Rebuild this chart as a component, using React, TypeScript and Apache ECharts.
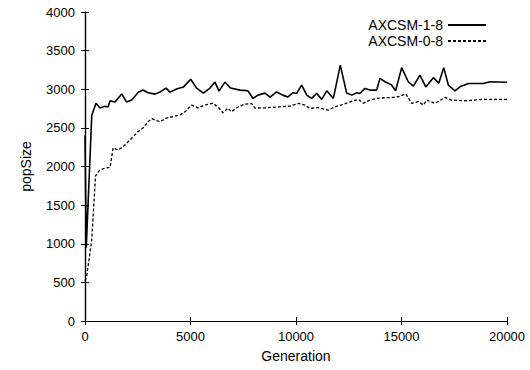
import React, { useEffect, useRef } from "react";
import * as echarts from "echarts";

const seriesNames = ["AXCSM-1-8", "AXCSM-0-8"];

const solidGen = [0, 60, 320, 520, 710, 950, 1090, 1190, 1420, 1740, 1975, 2210, 2530, 2750, 2990, 3320, 3550, 3840, 4030, 4340, 4660, 5010, 5290, 5610, 5920, 6160, 6350, 6630, 6900, 7350, 7720, 7960, 8200, 8530, 8770, 9080, 9370, 9620, 9860, 10030, 10270, 10510, 10740, 10980, 11220, 11455, 11770, 12100, 12400, 12640, 12880, 13030, 13270, 13500, 13820, 13980, 14220, 14530, 14720, 15010, 15320, 15560, 15876, 16150, 16510, 16770, 17000, 17220, 17535, 17770, 18170, 18880, 19190, 20000];
const solidVal = [2400, 950, 2660, 2820, 2756, 2780, 2770, 2850, 2834, 2940, 2834, 2860, 2960, 2990, 2955, 2937, 2963, 3015, 2963, 3002, 3028, 3130, 3015, 2950, 3015, 3093, 2976, 3093, 3015, 2989, 2980, 2880, 2924, 2950, 2899, 2965, 2924, 2900, 2955, 2946, 3054, 2924, 2881, 2946, 2869, 2980, 2881, 3313, 2950, 2924, 2955, 2946, 3011, 2989, 2989, 3140, 3097, 3054, 2980, 3280, 3097, 3040, 3183, 3030, 3150, 3080, 3280, 3054, 2980, 3032, 3075, 3075, 3097, 3090];

const dashedGen = [0, 80, 320, 500, 700, 950, 1190, 1330, 1560, 1800, 2040, 2280, 2510, 2750, 2990, 3170, 3320, 3550, 3860, 4150, 4500, 4740, 5050, 5355, 5670, 6066, 6350, 6540, 6780, 6930, 7270, 7580, 7900, 8056, 8610, 9240, 9720, 10110, 10420, 10664, 11000, 11532, 11850, 12200, 12560, 12955, 13190, 13506, 13823, 14200, 14612, 14850, 15200, 15480, 15800, 16033, 16190, 16587, 17060, 17380, 18090, 18800, 20000];
const dashedVal = [520, 580, 1050, 1880, 1954, 1980, 1990, 2240, 2213, 2255, 2320, 2385, 2450, 2500, 2580, 2620, 2600, 2580, 2627, 2644, 2666, 2708, 2795, 2760, 2795, 2820, 2756, 2695, 2756, 2708, 2773, 2808, 2815, 2756, 2760, 2773, 2782, 2817, 2795, 2752, 2765, 2730, 2773, 2800, 2838, 2869, 2820, 2860, 2881, 2890, 2894, 2903, 2940, 2817, 2840, 2795, 2860, 2817, 2894, 2860, 2851, 2869, 2869];

const xTicks = { min: 0, max: 20000, interval: 5000 };
const yTicks = { min: 0, max: 4000, interval: 500 };

const FONT = "Liberation Sans, Arial, Helvetica, sans-serif";

export default function App() {
  const ref = useRef<HTMLDivElement>(null);
  useEffect(() => {
    const chart = echarts.init(ref.current!, null, { renderer: "svg" });
    const zip = (xs: number[], ys: number[]) => xs.map((x, i) => [x, ys[i]]);
    const axisBase = {
      axisLine: { show: true, lineStyle: { color: "#000", width: 1.2 } },
      axisTick: { show: true, inside: true, length: 4, lineStyle: { color: "#000", width: 1 } },
      splitLine: { show: false },
    };
    const plain = (v: number) => String(v);
    chart.setOption({
      animation: false,
      backgroundColor: "#fff",
      textStyle: { fontFamily: FONT, color: "#000" },
      grid: { left: 85, right: 23, top: 12, bottom: 49, containLabel: false },
      legend: {
        orient: "vertical",
        right: 38,
        top: 13,
        align: "right",
        itemWidth: 38,
        itemHeight: 10,
        itemGap: 2,
        itemStyle: { opacity: 0 },
        textStyle: { fontFamily: FONT, fontSize: 14, color: "#000" },
        data: seriesNames,
      },
      xAxis: [
        {
          type: "value",
          ...xTicks,
          ...axisBase,
          axisLabel: { color: "#000", fontSize: 13, fontFamily: FONT, margin: 9, formatter: plain },
          name: "Generation",
          nameLocation: "middle",
          nameGap: 28,
          nameTextStyle: { fontSize: 14, fontFamily: FONT, color: "#000" },
        },
        {
          type: "value",
          position: "top",
          ...xTicks,
          ...axisBase,
          axisLabel: { show: false },
        },
      ],
      yAxis: [
        {
          type: "value",
          ...yTicks,
          ...axisBase,
          axisLabel: { color: "#000", fontSize: 13, fontFamily: FONT, margin: 10, formatter: plain },
          name: "popSize",
          nameLocation: "middle",
          nameGap: 52,
          nameTextStyle: { fontSize: 14, fontFamily: FONT, color: "#000" },
        },
        {
          type: "value",
          position: "right",
          ...yTicks,
          ...axisBase,
          axisLabel: { show: false },
        },
      ],
      series: [
        {
          name: seriesNames[0],
          type: "line",
          symbol: "none",
          xAxisIndex: 0,
          yAxisIndex: 0,
          lineStyle: { color: "#000", width: 1.6, type: "solid" },
          itemStyle: { color: "#000" },
          data: zip(solidGen, solidVal),
        },
        {
          name: seriesNames[1],
          type: "line",
          symbol: "none",
          xAxisIndex: 0,
          yAxisIndex: 0,
          lineStyle: { color: "#000", width: 1.3, type: [3, 2] },
          itemStyle: { color: "#000" },
          data: zip(dashedGen, dashedVal),
        },
      ],
    });
    return () => chart.dispose();
  }, []);
  return (
    <div
      ref={ref}
      style={{ position: "fixed", left: 0, top: 0, width: 530, height: 370, background: "#fff" }}
    />
  );
}
